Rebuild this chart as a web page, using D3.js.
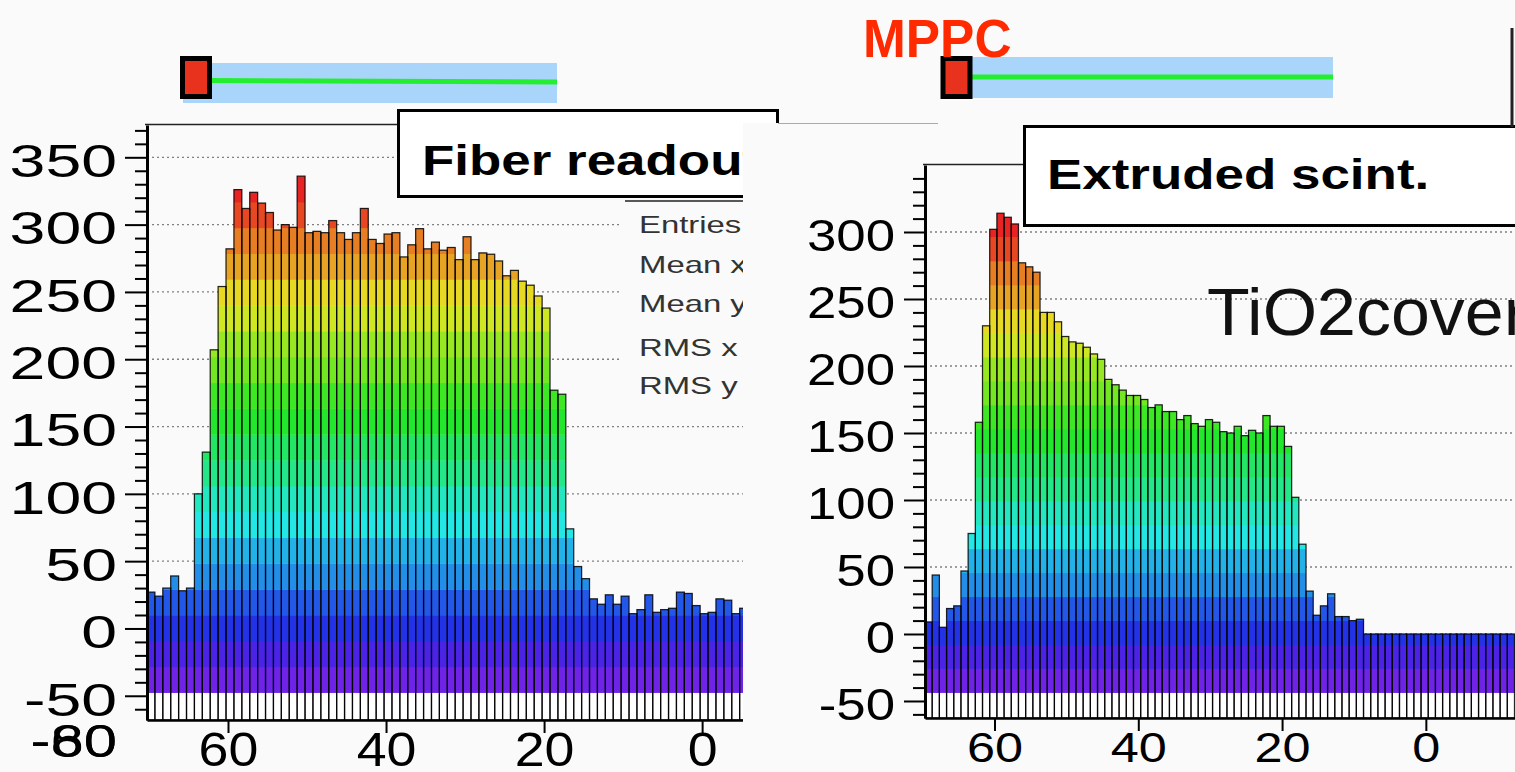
<!DOCTYPE html>
<html>
<head>
<meta charset="utf-8">
<script src="https://cdn.jsdelivr.net/npm/d3@7"></script>
<style>
    html, body { margin: 0; padding: 0; background: #fafafa; }
    svg { display: block; }
    text { font-family: "Liberation Sans", Arial, Helvetica, sans-serif; }
</style>
</head>
<body>
<svg id="chart" width="1515" height="772"></svg>
<script>

//bin contents, one entry per 1 unit bin, going left to right (x decreasing)
var fiberCounts = [27, 24, 30, 39, 28, 30, 100, 131, 207, 254,
    282, 326, 312, 324, 316, 309, 296, 300, 298, 336,
    294, 295, 294, 303, 294, 289, 294, 312, 289, 286,
    293, 294, 276, 285, 297, 282, 287, 281, 283, 274,
    291, 274, 279, 278, 273, 262, 266, 258, 255, 247,
    238, 177, 174, 74, 46, 37, 22, 18, 25, 18,
    24, 11, 14, 25, 12, 14, 15, 27, 26, 17,
    11, 12, 22, 21, 11, 15];

var extrudedCounts = [9, 44, 5, 19, 21, 47, 75, 158, 230, 302,
    314, 311, 306, 277, 274, 270, 240, 240, 233, 222,
    218, 217, 214, 209, 205, 190, 186, 182, 178, 178,
    175, 169, 171, 166, 166, 160, 163, 157, 155, 160,
    158, 151, 150, 155, 148, 152, 150, 163, 155, 155,
    140, 102, 67, 32, 14, 21, 30, 13, 13, 10,
    11, 0, 0, 0, 0, 0, 0, 0, 0, 0,
    0, 0, 0, 0, 0, 0, 0, 0, 0, 0,
    0, 0];

//upper edge of the first bin and the bottom of the colour scale of each plot
var fiberFirstEdge = 70.25;
var extrudedFirstEdge = 69.67;
var fiberZmin = -47.6;
var extrudedZmin = -43.7;

var yTicks = [-50, 0, 50, 100, 150, 200, 250, 300, 350];
var yMinorTicks = [-60, -40, -30, -20, -10, 10, 20, 30, 40, 60, 70, 80, 90, 110, 120, 130, 140,
    160, 170, 180, 190, 210, 220, 230, 240, 260, 270, 280, 290, 310, 320, 330, 340, 360, 370];
var xTicks = [60, 40, 20, 0];
var strayLabels = ["-60", "-80"];
var statLabels = ["Entries", "Mean x", "Mean y", "RMS x", "RMS y"];

var svg = d3.select("#chart");
var defs = svg.append("defs");

//ROOT "pretty" palette: 50 hues from violet to red, 20 contour levels picked out of it
var palette = d3.range(20).map(function(k) {
    var idx = Math.floor((k + 0.99) * 50 / 20);
    return d3.hsl(280 - (idx + 1) * 5.6, 0.8, 0.52).formatHex();
});

svg.append("rect")
    .attr("width", 1515)
    .attr("height", 772)
    .attr("fill", "#fafafa");

function drawPanel(p) {

    var x = d3.scaleLinear().domain(p.xDomain).range(p.xRange);
    var y = d3.scaleLinear().domain(p.yDomain).range(p.yRange);
    var yBottom = p.yRange[0];

    var bins = p.counts.map(function(c, i) {
        return { hi: p.firstEdge - i, lo: p.firstEdge - i - 1, value: c };
    });

    var zmax = d3.max(p.counts);
    var levels = d3.range(21).map(function(i) { return p.zmin + i * (zmax - p.zmin) / 20; });

    var g = svg.append("g");

    //dotted grid at the major ticks, behind the bars
    g.selectAll(".grid")
        .data(yTicks.filter(function(t) { return t < p.yDomain[1]; }))
        .enter()
        .append("line")
        .classed("grid", true)
        .attr("x1", p.xRange[0])
        .attr("x2", p.gridRight)
        .attr("y1", function(d) { return y(d); })
        .attr("y2", function(d) { return y(d); })
        .attr("stroke", "#808080")
        .attr("stroke-width", 1.3)
        .attr("stroke-dasharray", "2,3");

    //the bars themselves are the clip, the colour levels are painted through them
    var clip = defs.append("clipPath").attr("id", p.id + "-bars");
    clip.selectAll("rect")
        .data(bins)
        .enter()
        .append("rect")
        .attr("x", function(d) { return x(d.hi); })
        .attr("width", function(d) { return x(d.lo) - x(d.hi); })
        .attr("y", function(d) { return y(d.value); })
        .attr("height", function(d) { return yBottom - y(d.value); });

    var bands = g.append("g").attr("clip-path", "url(#" + p.id + "-bars)");

    bands.append("rect")
        .attr("x", p.xRange[0])
        .attr("width", p.xRange[1] - p.xRange[0])
        .attr("y", y(p.zmin))
        .attr("height", yBottom - y(p.zmin))
        .attr("fill", "#ffffff");

    bands.selectAll(".band")
        .data(d3.range(20))
        .enter()
        .append("rect")
        .classed("band", true)
        .attr("x", p.xRange[0])
        .attr("width", p.xRange[1] - p.xRange[0])
        .attr("y", function(k) { return y(levels[k + 1]); })
        .attr("height", function(k) { return y(levels[k]) - y(levels[k + 1]) + 0.4; })
        .attr("fill", function(k) { return palette[k]; });

    g.selectAll(".bar")
        .data(bins)
        .enter()
        .append("rect")
        .classed("bar", true)
        .attr("x", function(d) { return x(d.hi); })
        .attr("width", function(d) { return x(d.lo) - x(d.hi); })
        .attr("y", function(d) { return y(d.value); })
        .attr("height", function(d) { return yBottom - y(d.value); })
        .attr("fill", "none")
        .attr("stroke", "#000")
        .attr("stroke-opacity", 0.85)
        .attr("stroke-width", 1.25);

    //y axis, ticks outside on the left like the original
    var yMinor = d3.axisLeft(y)
        .tickValues(yMinorTicks.filter(function(t) { return t > p.yDomain[0] && t < p.yDomain[1]; }))
        .tickSize(p.minorTick)
        .tickSizeOuter(0)
        .tickFormat("");
    var ym = g.append("g")
        .attr("transform", "translate(" + p.xRange[0] + ",0)")
        .call(yMinor);
    ym.select(".domain").remove();
    ym.selectAll(".tick line").attr("stroke-width", 2);

    var yAxis = d3.axisLeft(y)
        .tickValues(yTicks.filter(function(t) { return t < p.yDomain[1]; }))
        .tickSize(p.majorTick)
        .tickSizeOuter(0)
        .tickFormat(function(d) { return String(d); });
    var ya = g.append("g")
        .attr("transform", "translate(" + p.xRange[0] + ",0)")
        .call(yAxis);
    ya.select(".domain").attr("stroke-width", 3);
    ya.selectAll(".tick line").attr("stroke-width", 2);
    ya.selectAll("text")
        .attr("font-size", p.yFont)
        .attr("font-family", "Liberation Sans, Arial, sans-serif")
        .attr("fill", "#000")
        .attr("x", -p.labelGap / p.yStretch)
        .attr("dy", "0.42em")
        .attr("transform", "scale(" + p.yStretch + ",1)");

    var xAxis = d3.axisBottom(x)
        .tickValues(xTicks)
        .tickSize(13)
        .tickSizeOuter(0)
        .tickPadding(p.xPad)
        .tickFormat(function(d) { return String(d); });
    var xa = g.append("g")
        .attr("transform", "translate(0," + yBottom + ")")
        .call(xAxis);
    xa.select(".domain").attr("stroke-width", 2.5);
    xa.selectAll(".tick line").attr("stroke-width", 2);
    xa.selectAll("text")
        .attr("font-size", p.xFont)
        .attr("font-family", "Liberation Sans, Arial, sans-serif")
        .attr("fill", "#000")
        .attr("transform", "scale(" + p.xStretch + ",1)");

    //frame top
    g.append("line")
        .attr("x1", p.xRange[0] - 2)
        .attr("x2", p.frameRight)
        .attr("y1", p.yRange[1] - 0.5)
        .attr("y2", p.yRange[1] - 0.5)
        .attr("stroke", "#222")
        .attr("stroke-width", 1.5);

    return g;
}

//left picture: fiber readout
drawPanel({
    id: "fiber",
    counts: fiberCounts,
    firstEdge: fiberFirstEdge,
    zmin: fiberZmin,
    xDomain: [70.25, -5.3],
    xRange: [147, 744],
    yDomain: [-68, 374],
    yRange: [720, 125],
    gridRight: 743,
    frameRight: 398,
    majorTick: 22,
    minorTick: 12,
    labelGap: 30,
    yFont: 46,
    yStretch: 1.4,
    xFont: 48,
    xStretch: 1.12,
    xPad: -1
});

svg.selectAll(".stray")
    .data(strayLabels)
    .enter()
    .append("text")
    .classed("stray", true)
    .attr("x", 117 / 1.3)
    .attr("y", 757)
    .attr("transform", "scale(1.3,1)")
    .attr("text-anchor", "end")
    .attr("font-size", 46)
    .attr("fill", "#000")
    .text(function(d) { return d; });

//stat box, cut at the edge of the picture
svg.append("rect")
    .attr("x", 622)
    .attr("y", 201)
    .attr("width", 130)
    .attr("height", 206)
    .attr("fill", "#fafafa");
svg.append("line")
    .attr("x1", 625)
    .attr("x2", 745)
    .attr("y1", 201)
    .attr("y2", 201)
    .attr("stroke", "#222")
    .attr("stroke-width", 1.5);
var statY = [233, 273, 312, 356, 394];
svg.selectAll(".stat")
    .data(statLabels)
    .enter()
    .append("text")
    .classed("stat", true)
    .attr("x", 639 / 1.43)
    .attr("y", function(d, i) { return statY[i]; })
    .attr("transform", "scale(1.43,1)")
    .attr("font-size", 23)
    .attr("fill", "#333")
    .text(function(d) { return d; });

svg.append("rect")
    .attr("x", 398.5)
    .attr("y", 110.5)
    .attr("width", 379)
    .attr("height", 86)
    .attr("fill", "#fff")
    .attr("stroke", "#000")
    .attr("stroke-width", 3);
svg.append("text")
    .attr("x", 422 / 1.26)
    .attr("y", 175)
    .attr("transform", "scale(1.26,1)")
    .attr("font-size", 42)
    .attr("font-weight", "bold")
    .attr("fill", "#000")
    .text("Fiber readout");

//right picture pasted over the left one
svg.append("rect")
    .attr("x", 743)
    .attr("y", 123)
    .attr("width", 772)
    .attr("height", 649)
    .attr("fill", "#fafafa");
svg.append("line")
    .attr("x1", 778)
    .attr("x2", 938)
    .attr("y1", 123.5)
    .attr("y2", 123.5)
    .attr("stroke", "#aaa")
    .attr("stroke-width", 1);

drawPanel({
    id: "extruded",
    counts: extrudedCounts,
    firstEdge: extrudedFirstEdge,
    zmin: extrudedZmin,
    xDomain: [69.67, -12.4],
    xRange: [925, 1515],
    yDomain: [-62.7, 350],
    yRange: [718, 165],
    gridRight: 1515,
    frameRight: 1024,
    majorTick: 21,
    minorTick: 12,
    labelGap: 30,
    yFont: 44,
    yStretch: 1.2,
    xFont: 42,
    xStretch: 1.2,
    xPad: 1
});

svg.append("rect")
    .attr("x", 1024.5)
    .attr("y", 126.5)
    .attr("width", 500)
    .attr("height", 99)
    .attr("fill", "#fff")
    .attr("stroke", "#000")
    .attr("stroke-width", 3);
svg.append("text")
    .attr("x", 1047 / 1.26)
    .attr("y", 189)
    .attr("transform", "scale(1.26,1)")
    .attr("font-size", 42)
    .attr("font-weight", "bold")
    .attr("fill", "#000")
    .text("Extruded scint.");

svg.append("text")
    .attr("x", 1207 / 1.06)
    .attr("y", 335)
    .attr("transform", "scale(1.06,1)")
    .attr("font-size", 66)
    .attr("fill", "#111")
    .text("TiO2cover");

svg.append("line")
    .attr("x1", 1512)
    .attr("x2", 1512)
    .attr("y1", 28)
    .attr("y2", 127)
    .attr("stroke", "#222")
    .attr("stroke-width", 3);

//fiber sketches above the plots: scintillator, WLS fiber, MPPC
function drawSketch(bx, by, bw, bh, gy0, gy1, mx) {
    svg.append("rect")
        .attr("x", bx)
        .attr("y", by)
        .attr("width", bw)
        .attr("height", bh)
        .attr("fill", "#a9d5fb");
    svg.append("line")
        .attr("x1", mx + 30)
        .attr("x2", bx + bw)
        .attr("y1", gy0)
        .attr("y2", gy1)
        .attr("stroke", "#24ee30")
        .attr("stroke-width", 5);
    svg.append("rect")
        .attr("x", mx + 2.5)
        .attr("y", 58.5)
        .attr("width", 27)
        .attr("height", 38)
        .attr("fill", "#e8321e")
        .attr("stroke", "#000")
        .attr("stroke-width", 5);
}

drawSketch(183, 63, 374, 40, 80.5, 82, 180);
drawSketch(967, 57, 366, 41, 77, 77, 940.5);

svg.append("text")
    .attr("x", 863 / 0.97)
    .attr("y", 57)
    .attr("transform", "scale(0.97,1)")
    .attr("font-size", 53)
    .attr("font-weight", "bold")
    .attr("fill", "#ff2a00")
    .text("MPPC");

</script>
</body>
</html>
